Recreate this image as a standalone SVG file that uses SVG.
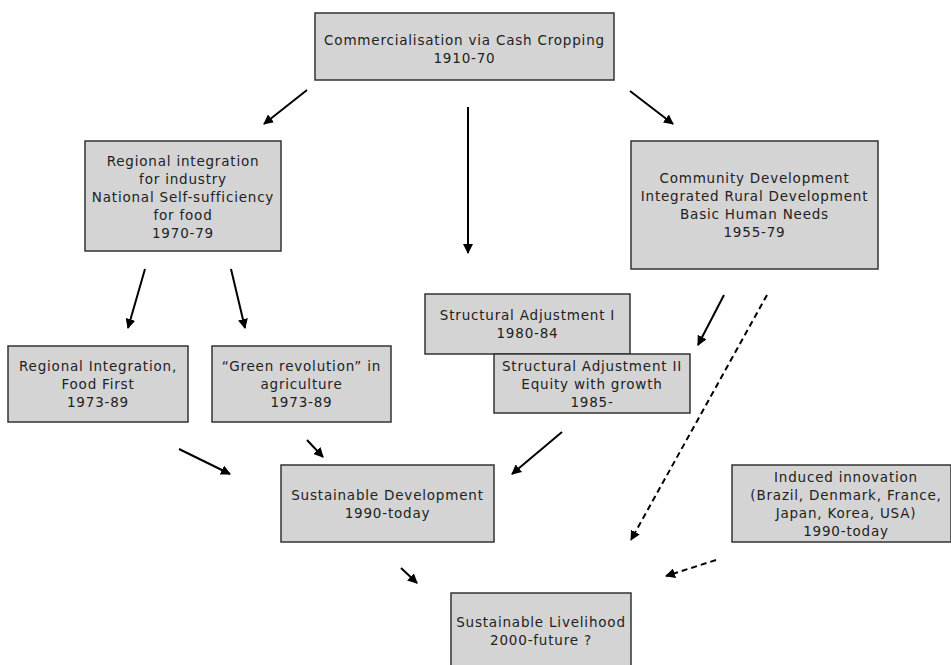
<svg xmlns="http://www.w3.org/2000/svg" width="951" height="665" viewBox="0 0 951 665">
<style>
.box{fill:#d4d4d4;stroke:#333;stroke-width:1.5}
text{font-family:"DejaVu Sans",Verdana,sans-serif;font-size:13.5px;letter-spacing:0.8px;fill:#222;text-anchor:middle}
.c line{stroke:#000;stroke-width:2;marker-end:url(#ah)}
.c .d{stroke-dasharray:6 4}
</style>
<defs>
<marker id="ah" viewBox="0 0 10 10" refX="9" refY="5" markerWidth="5" markerHeight="5" orient="auto" markerUnits="strokeWidth">
<path d="M0,0 L10,5 L0,10 z" fill="#000"/>
</marker>
</defs>
<rect width="951" height="665" fill="#fff"/>
<g class="c" id="connectors">
<line x1="307" y1="90" x2="264" y2="124"/>
<line x1="468" y1="107" x2="468" y2="253"/>
<line x1="630" y1="91" x2="673" y2="124"/>
<line x1="145" y1="269" x2="128" y2="328"/>
<line x1="231" y1="269" x2="245" y2="328"/>
<line x1="724" y1="295" x2="698" y2="345"/>
<line x1="179" y1="449" x2="230" y2="474"/>
<line x1="307" y1="440" x2="323" y2="457"/>
<line x1="562" y1="432" x2="512" y2="474"/>
<line x1="401" y1="568" x2="417" y2="583"/>
<line class="d" x1="767" y1="295" x2="631" y2="540"/>
<line class="d" x1="716" y1="560" x2="666" y2="576"/>
</g>
<g id="commercialisation">
<rect class="box" x="315" y="13" width="299" height="67"/>
<text x="464.5" y="45">Commercialisation via Cash Cropping</text>
<text x="464.5" y="63">1910-70</text>
</g>
<g id="regional-integration-industry">
<rect class="box" x="85" y="141" width="196" height="110"/>
<text x="183" y="166">Regional integration</text>
<text x="183" y="184">for industry</text>
<text x="183" y="202">National Self-sufficiency</text>
<text x="183" y="220">for food</text>
<text x="183" y="238">1970-79</text>
</g>
<g id="community-development">
<rect class="box" x="631" y="141" width="247" height="128"/>
<text x="754.5" y="183">Community Development</text>
<text x="754.5" y="201">Integrated Rural Development</text>
<text x="754.5" y="219">Basic Human Needs</text>
<text x="754.5" y="237">1955-79</text>
</g>
<g id="regional-food-first">
<rect class="box" x="8" y="346" width="180" height="76"/>
<text x="98" y="371">Regional Integration,</text>
<text x="98" y="389">Food First</text>
<text x="98" y="407">1973-89</text>
</g>
<g id="green-revolution">
<rect class="box" x="212" y="346" width="179" height="76"/>
<text x="301.5" y="371">“Green revolution” in</text>
<text x="301.5" y="389">agriculture</text>
<text x="301.5" y="407">1973-89</text>
</g>
<g id="structural-adjustment-1">
<rect class="box" x="425" y="294" width="205" height="60"/>
<text x="527.5" y="320">Structural Adjustment I</text>
<text x="527.5" y="338">1980-84</text>
</g>
<g id="structural-adjustment-2">
<rect class="box" x="494" y="354" width="196" height="59"/>
<text x="592" y="371">Structural Adjustment II</text>
<text x="592" y="389">Equity with growth</text>
<text x="592" y="407">1985-</text>
</g>
<g id="sustainable-development">
<rect class="box" x="281" y="465" width="213" height="77"/>
<text x="387.5" y="500">Sustainable Development</text>
<text x="387.5" y="518">1990-today</text>
</g>
<g id="induced-innovation">
<rect class="box" x="732" y="465" width="219" height="77"/>
<text x="846" y="482">Induced innovation</text>
<text x="846" y="500">(Brazil, Denmark, France,</text>
<text x="846" y="518">Japan, Korea, USA)</text>
<text x="846" y="536">1990-today</text>
</g>
<g id="sustainable-livelihood">
<rect class="box" x="451" y="593" width="180" height="80"/>
<text x="541" y="627">Sustainable Livelihood</text>
<text x="541" y="645">2000-future ?</text>
</g>
</svg>
